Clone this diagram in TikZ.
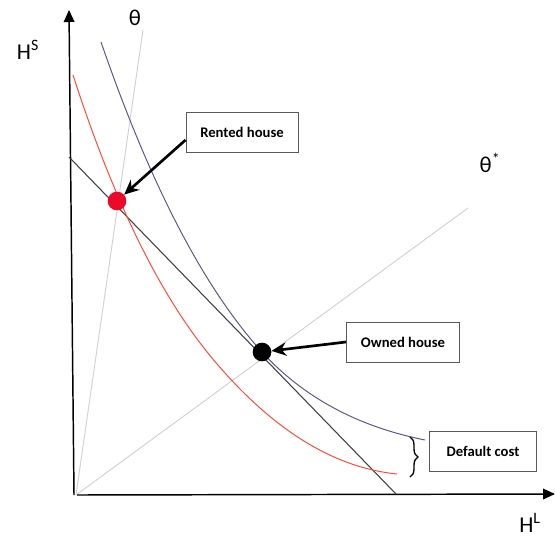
\documentclass[tikz,border=0pt]{standalone}
\usepackage{fontspec}
\setmainfont{Carlito}
\usetikzlibrary{arrows.meta,decorations.pathreplacing}
\definecolor{RentClr}{rgb}{1,0.3,0.22}
\definecolor{OwnClr}{rgb}{0.35,0.35,0.55}
\definecolor{RayClr}{rgb}{0.82,0.82,0.82}
\definecolor{DotClr}{rgb}{0.92,0.04,0.16}

\begin{document}
\begin{tikzpicture}[x=0.75pt,y=-0.75pt,
  box/.style={draw=black!65,fill=white,line width=0.6pt,minimum height=30pt,
    font=\bfseries\fontsize{11}{13}\selectfont},
  dot/.style={circle,inner sep=0pt,minimum size=14pt},
  pointer/.style={line width=2pt,-{Stealth[length=11pt,width=10pt]}},
  lbl/.style={font=\fontsize{17}{19}\selectfont}]
\useasboundingbox (0,0) rectangle (555,541);

\coordinate (O) at (76,495);
\coordinate (Ytop) at (69,10);
\coordinate (Ybot) at (74,495);
\coordinate (Xbot) at (77,495);
\coordinate (Xend) at (555,494);
\coordinate (Th) at (143,30);
\coordinate (ThStar) at (468,208);
\coordinate (BudgetA) at (69,157);
\coordinate (BudgetB) at (396,494);

% rays
\draw[RayClr,line width=0.7pt] (O) -- (Th);
\draw[RayClr,line width=0.7pt] (O) -- (ThStar);

% axes
\draw[line width=1.1pt,-{Triangle[length=9pt,width=8pt]}] (Ybot) -- (Ytop);
\draw[line width=1.1pt,-{Triangle[length=9pt,width=8pt]}] (Xbot) -- (Xend);

% budget line
\draw[black!75,line width=0.8pt] (BudgetA) -- (BudgetB);

% indifference curves
\draw[RentClr,line width=0.75pt] (73,75) .. controls (113.8,201.4) and (160.1,295.7) .. (212,358)
  .. controls (271.1,428.9) and (332.7,467.5) .. (397,474);
\draw[OwnClr,line width=0.75pt] (101,42) .. controls (150.2,184.7) and (203.9,288) .. (262,352)
  .. controls (303.1,397.1) and (357.4,426.5) .. (425,440);

% points
\node[dot,fill=DotClr] (rdot) at (117,201) {};
\node[dot,fill=black] (odot) at (262,352) {};

% labels
\node[box,minimum width=84pt] (rent) at (242,132) {Rented house};
\node[box,minimum width=85pt] (own) at (403,342) {Owned house};
\node[box,minimum width=80pt] (cost) at (483,451) {Default cost};

\draw[pointer] (rent.188) -- (rdot);
\draw[pointer] (own.west) -- (odot);

\coordinate (BraceTop) at (410,437);
\coordinate (BraceBot) at (410,477);
\draw[line width=1pt,decorate,decoration={brace,amplitude=6pt}] (BraceTop) -- (BraceBot);

\node[lbl] (hs) at (28,50) {H\textsuperscript{S}};
\node[lbl] (hl) at (530,523) {H\textsuperscript{L}};
\node[lbl] (th) at (135,18) {θ};
\node[lbl] (ths) at (490,163) {θ\textsuperscript{*}};

\end{tikzpicture}
\end{document}
